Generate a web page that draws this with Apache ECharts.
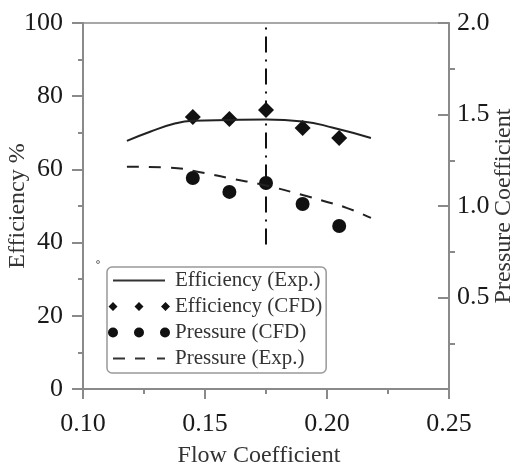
<!DOCTYPE html>
<html>
<head>
<meta charset="utf-8">
<script src="https://cdn.jsdelivr.net/npm/echarts@6/dist/echarts.min.js"></script>
<style>
  html, body { margin: 0; padding: 0; background: #fff; }
  #main { width: 520px; height: 464px; }
</style>
</head>
<body>
<div id="main"></div>
<script>
// flow coefficient for the CFD points
var flowCfd = [0.145, 0.16, 0.175, 0.19, 0.205];
var effCfd = [74.3, 73.8, 76.2, 71.3, 68.6];
var presCfd = [1.153, 1.077, 1.126, 1.011, 0.891];

// experimental curves
var flowEffExp = [0.118, 0.1275, 0.138, 0.145, 0.16, 0.175, 0.19, 0.2025, 0.218];
var effExp = [67.8, 70.3, 72.6, 73.3, 73.5, 73.6, 73.1, 71.4, 68.6];
var flowPresExp = [0.118, 0.135, 0.148, 0.16, 0.175, 0.19, 0.2, 0.208, 0.218];
var presExp = [1.215, 1.21, 1.185, 1.152, 1.112, 1.06, 1.022, 0.99, 0.935];

// design point marker line
var designFlow = [0.175, 0.175];
var designEff = [39.5, 100];

var names = ['Efficiency (Exp.)', 'Efficiency (CFD)', 'Pressure (CFD)', 'Pressure (Exp.)'];

function pairs(xs, ys) {
    return xs.map(function (x, i) { return [x, ys[i]]; });
}

var font = 'Liberation Serif';
var ink = '#1a1a1a';
var axisGrey = '#8a8a8a';

// legend icons, all drawn in a 62 x 10 box (the M0,0 M62,10 pin the box)
var box = 'path://M0,0 M62,10 ';
var solidIcon = box + 'M5,4 L57,4 L57,6 L5,6 Z';
var dashIcon = box + 'M5,4 L17,4 L17,6 L5,6 Z M27,4 L37,4 L37,6 L27,6 Z M49,4 L57,4 L57,6 L49,6 Z';
var diamonds = box + 'M0.5,5 L5,0.5 L9.5,5 L5,9.5 Z M26.5,5 L31,0.5 L35.5,5 L31,9.5 Z M53,5 L57.5,0.5 L62,5 L57.5,9.5 Z';
var dots = box + 'M0,5 A5,5 0 1,1 10,5 A5,5 0 1,1 0,5 Z M26,5 A5,5 0 1,1 36,5 A5,5 0 1,1 26,5 Z M52,5 A5,5 0 1,1 62,5 A5,5 0 1,1 52,5 Z';

var chart = echarts.init(document.getElementById('main'));
chart.setOption({
    animation: false,
    backgroundColor: '#fff',
    grid: {
        left: 83, right: 71, top: 23, bottom: 75,
        outerBoundsMode: 'none', containLabel: false,
        show: true, borderColor: axisGrey, borderWidth: 1.5
    },
    legend: {
        orient: 'vertical',
        left: 107,
        top: 267,
        padding: [3, 4, 4, 1],
        itemGap: 5,
        itemWidth: 62,
        itemHeight: 10,
        borderColor: '#999',
        borderWidth: 1.5,
        borderRadius: 5,
        textStyle: { fontFamily: font, fontSize: 21, color: '#333' },
        data: [
            { name: names[0], icon: solidIcon, itemStyle: { color: '#333' } },
            { name: names[1], icon: diamonds, itemStyle: { color: '#111' } },
            { name: names[2], icon: dots, itemStyle: { color: '#111' } },
            { name: names[3], icon: dashIcon, itemStyle: { color: '#333' } }
        ]
    },
    xAxis: {
        type: 'value',
        min: 0.1, max: 0.25, interval: 0.05,
        name: 'Flow Coefficient',
        nameLocation: 'middle',
        nameGap: 55,
        nameMoveOverlap: false,
        nameTextStyle: { fontFamily: font, fontSize: 24, color: '#333', padding: [0, 14, 0, 0] },
        axisLine: { lineStyle: { color: axisGrey, width: 2 } },
        axisTick: { length: 10, lineStyle: { color: axisGrey, width: 2 } },
        minorTick: { show: true, splitNumber: 2, length: 5, lineStyle: { color: axisGrey, width: 2 } },
        splitLine: { show: false },
        axisLabel: { margin: 22, fontFamily: font, fontSize: 26, color: ink, formatter: function (v) { return v.toFixed(2); } }
    },
    yAxis: [{
        type: 'value',
        min: 0, max: 100, interval: 20,
        name: 'Efficiency %',
        nameLocation: 'middle',
        nameGap: 53,
        nameMoveOverlap: false,
        nameTextStyle: { fontFamily: font, fontSize: 24, color: '#333' },
        axisLine: { show: true, lineStyle: { color: axisGrey, width: 2 } },
        axisTick: { show: true, length: 11, lineStyle: { color: axisGrey, width: 2 } },
        minorTick: { show: true, splitNumber: 2, length: 5, lineStyle: { color: axisGrey, width: 2 } },
        splitLine: { show: false },
        axisLabel: { margin: 20, fontFamily: font, fontSize: 26, color: ink }
    }, {
        type: 'value',
        position: 'right',
        min: 0, max: 2, interval: 0.5,
        name: 'Pressure Coefficient',
        nameLocation: 'middle',
        nameRotate: 90,
        nameGap: 43,
        nameMoveOverlap: false,
        nameTextStyle: { fontFamily: font, fontSize: 24, color: '#333' },
        axisLine: { show: true, lineStyle: { color: axisGrey, width: 2 } },
        axisTick: { show: true, inside: true, length: 11, lineStyle: { color: axisGrey, width: 2 } },
        splitLine: { show: false },
        axisLabel: { margin: 8, fontFamily: font, fontSize: 26, color: ink,
            formatter: function (v) { return v === 0 ? '' : v.toFixed(1); } }
    }, {
        type: 'value',
        position: 'right',
        min: 0, max: 2, interval: 0.5,
        axisLine: { show: false },
        axisTick: { show: false },
        minorTick: { show: true, splitNumber: 2, length: 6, lineStyle: { color: axisGrey, width: 2 } },
        splitLine: { show: false },
        axisLabel: { show: false }
    }],
    graphic: [{
        type: 'circle',
        shape: { cx: 98, cy: 262, r: 1.5 },
        style: { fill: 'none', stroke: '#777', lineWidth: 1 }
    }],
    series: [{
        name: names[0],
        type: 'line',
        yAxisIndex: 0,
        smooth: true,
        symbol: 'none',
        data: pairs(flowEffExp, effExp),
        itemStyle: { color: '#222' },
        lineStyle: { color: '#222', width: 2 }
    }, {
        name: names[1],
        type: 'scatter',
        yAxisIndex: 0,
        symbol: 'diamond',
        symbolSize: 16,
        data: pairs(flowCfd, effCfd),
        itemStyle: { color: '#111', opacity: 1 }
    }, {
        name: names[2],
        type: 'scatter',
        yAxisIndex: 1,
        symbol: 'circle',
        symbolSize: 14,
        data: pairs(flowCfd, presCfd),
        itemStyle: { color: '#111', opacity: 1 }
    }, {
        name: names[3],
        type: 'line',
        yAxisIndex: 1,
        smooth: true,
        symbol: 'none',
        data: pairs(flowPresExp, presExp),
        itemStyle: { color: '#222' },
        lineStyle: { color: '#222', width: 2, type: [12, 10] }
    }, {
        name: 'design',
        type: 'line',
        yAxisIndex: 0,
        symbol: 'none',
        data: pairs(designFlow, designEff),
        lineStyle: { color: '#111', width: 2, type: [16, 7, 2, 7] },
        z: 1
    }]
});
</script>
</body>
</html>
